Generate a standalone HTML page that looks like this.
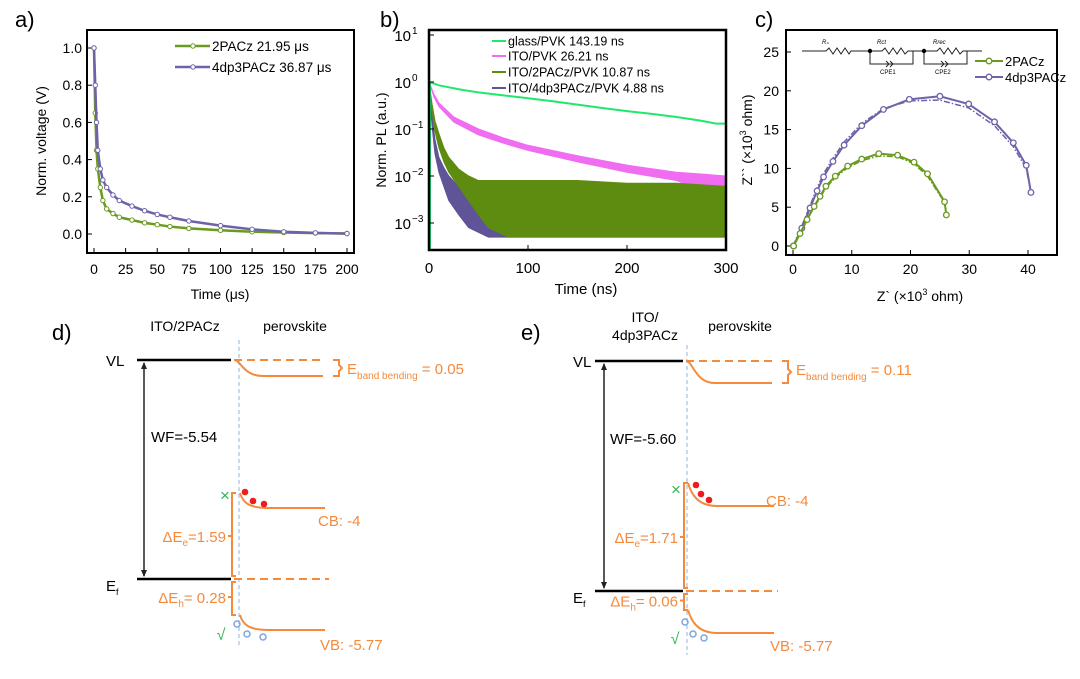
<!DOCTYPE html>
<html><head><meta charset="utf-8"><style>
body{margin:0;background:#fff;}
svg{display:block;font-family:"Liberation Sans",sans-serif;}
</style></head><body>
<svg id="fig" width="1080" height="679" viewBox="0 0 1080 679">
<g id="pa"></g>
<g id="pb"></g>
<g id="pc"></g>
<g id="pd"></g>
<g id="pe"></g>
</svg>
<script>
// ---------- Panel a data ----------
const aTime2 = [0,1,2,3,5,7,10,15,20,30,40,50,60,75,100,125,150,175,200];
const aVolt2 = [1.0,0.65,0.45,0.35,0.25,0.18,0.135,0.11,0.09,0.075,0.06,0.05,0.04,0.03,0.02,0.012,0.008,0.005,0.003];
const aTime4 = [0,1,2,3,5,7,10,15,20,30,40,50,60,75,100,125,150,175,200];
const aVolt4 = [1.0,0.8,0.6,0.45,0.35,0.29,0.25,0.21,0.18,0.15,0.125,0.105,0.09,0.07,0.045,0.025,0.012,0.006,0.002];
const aXTicks = [0,25,50,75,100,125,150,175,200];
const aYTicks = [0.0,0.2,0.4,0.6,0.8,1.0];
// ---------- Panel b data ----------
const bGlassT = [0,10,30,50,75,100,125,150,175,200,225,250,275,290,300];
const bGlassV = [1,0.85,0.7,0.6,0.52,0.45,0.39,0.33,0.28,0.24,0.21,0.18,0.15,0.13,0.13];
const bPinkT = [0,5,10,25,50,75,100,150,200,250,275,300];
const bPinkHi = [1,0.55,0.36,0.18,0.1,0.065,0.045,0.027,0.017,0.012,0.011,0.01];
const bPinkLo = [1,0.48,0.3,0.14,0.075,0.05,0.035,0.02,0.012,0.008,0.005,0.005];
const bOliveT = [0,3,6,10,15,20,30,40,50,60,80,100,150,200,250,300];
const bOliveHi = [1,0.35,0.15,0.08,0.04,0.025,0.014,0.01,0.008,0.008,0.008,0.008,0.008,0.007,0.007,0.006];
const bOliveLo = [1,0.25,0.09,0.04,0.02,0.012,0.006,0.003,0.0015,0.0008,0.0005,0.0005,0.0005,0.0005,0.0005,0.0005];
const bPurpT = [0,3,6,10,15,20,30,40,60,80,100,150,200,250,300];
const bPurpHi = [1,0.2,0.06,0.025,0.015,0.01,0.006,0.004,0.003,0.002,0.0015,0.0015,0.0015,0.0015,0.0015];
const bPurpLo = [1,0.12,0.03,0.012,0.006,0.003,0.0015,0.0008,0.0005,0.0005,0.0005,0.0005,0.0005,0.0005,0.0005];
const bXTicks = [0,100,200,300];
const bYExp = [1,0,-1,-2,-3];
const bLegend = ["glass/PVK 143.19 ns","ITO/PVK    26.21 ns","ITO/2PACz/PVK   10.87 ns","ITO/4dp3PACz/PVK   4.88 ns"];
// ---------- Panel c data ----------
const c2X = [0.1,1.2,2.4,3.6,4.6,5.6,7.2,9.3,11.7,14.6,17.8,20.6,22.9,25.8,26.1];
const c2Y = [0,1.6,3.4,5.1,6.4,7.7,9.0,10.3,11.2,11.9,11.7,10.8,9.3,5.7,4.0];
const c2FitX = [0,1.2,2.4,3.6,4.6,5.6,7.2,9.3,11.7,14.6,17.8,20.6,22.9,25.8,26.1];
const c2FitY = [0,1.7,3.5,5.0,6.2,7.5,8.8,10.1,11.0,11.6,11.5,10.6,9.0,5.6,4.0];
const c4X = [0.1,1.5,2.9,4.1,5.2,6.8,8.7,11.7,15.4,19.8,25,29.9,34.3,37.5,39.7,40.5];
const c4Y = [0,2.3,4.9,7.1,8.9,10.9,13.0,15.5,17.6,18.9,19.3,18.3,16.0,13.3,10.4,6.9];
const c4FitX = [0,1.5,2.9,4.1,5.2,6.8,8.7,11.7,15.4,19.8,25,29.9,34.3,37.5,39.7,40.5];
const c4FitY = [0,2.6,5.2,7.5,9.3,11.3,13.4,15.8,17.7,18.7,18.8,17.8,15.5,12.8,10.0,6.9];
const cXTicks = [0,10,20,30,40];
const cYTicks = [0,5,10,15,20,25];

const NS="http://www.w3.org/2000/svg";
function mk(parent,tag,attrs,text){const e=document.createElementNS(NS,tag);for(const k in attrs)e.setAttribute(k,attrs[k]);if(text!==undefined)e.textContent=text;parent.appendChild(e);return e;}
const G='#6a9a1f', P='#6e63a8', GL='#20e86a', PK='#f06cf0', OL='#5e8c10', PU='#5f5498', OR='#f58a3c';

// ===== Panel A =====
(function(){
const g=document.getElementById('pa');
const x0=87,x1=354,y0=30,y1=253;
const sx=v=>94+(v/200)*(347-94), sy=v=>234-(v/1.0)*(234-48);
let t=mk(g,'text',{x:15,y:27,'font-size':22});t.textContent='a)';

let r=mk(g,'rect',{x:x0,y:y0,width:x1-x0,height:y1-y0,fill:'none',stroke:'#000','stroke-width':2});

aXTicks.forEach(v=>{mk(g,'line',{x1:sx(v),x2:sx(v),y1:y1,y2:y1-5,stroke:'#000'});
 let e=mk(g,'text',{x:sx(v),y:y1+21,'font-size':14,'text-anchor':'middle'},String(v));
 });
aYTicks.forEach(v=>{mk(g,'line',{x1:x0,x2:x0+5,y1:sy(v),y2:sy(v),stroke:'#000'});
 let e=mk(g,'text',{x:x0-5,y:sy(v)+5,'font-size':14,'text-anchor':'end'},v.toFixed(1));
 });
let yl=mk(g,'text',{x:0,y:0,'font-size':14,'text-anchor':'middle',transform:'translate(46,141) rotate(-90)'},'Norm. voltage (V)');

let xl=mk(g,'text',{x:220,y:299,'font-size':14,'text-anchor':'middle'},'Time (μs)');

function series(T,V,c,name){
 const s=mk(g,'g',{});
 mk(s,'polyline',{points:T.map((v,i)=>sx(v)+','+sy(V[i])).join(' '),fill:'none',stroke:c,'stroke-width':2.5});
 T.forEach((v,i)=>{const m=mk(s,'circle',{cx:sx(v),cy:sy(V[i]),r:2.2,fill:'#fff',stroke:c,'stroke-width':1});
  });
}
series(aTime2,aVolt2,G,'series-2pacz');
series(aTime4,aVolt4,P,'series-4dp3pacz');
[[G,'2PACz 21.95 μs',46],[P,'4dp3PACz 36.87 μs',67]].forEach(d=>{
 const l=mk(g,'g',{});
 mk(l,'line',{x1:175,x2:210,y1:d[2],y2:d[2],stroke:d[0],'stroke-width':2.5});
 mk(l,'circle',{cx:193,cy:d[2],r:2.2,fill:'#fff',stroke:d[0]});
 mk(l,'text',{x:212,y:d[2]+5,'font-size':13.5},d[1]);});
})();

// ===== Panel B =====
(function(){
const g=document.getElementById('pb');
const x0=429,x1=726,y0=30,y1=250;
const sx=v=>429+(v/300)*(726-429), sy=v=>82-Math.log10(v)*47;
let t=mk(g,'text',{x:380,y:27,'font-size':22},'b)');

const clip=mk(g,'clipPath',{id:'cb'});mk(clip,'rect',{x:x0,y:y0,width:x1-x0,height:y1-y0});
const d=mk(g,'g',{'clip-path':'url(#cb)'});
function band(T,H,L,c,name){const p=mk(d,'polygon',{points:T.map((v,i)=>sx(v)+','+sy(H[i])).concat(T.map((v,i)=>sx(v)+','+sy(L[i])).reverse()).join(' '),fill:c,stroke:c,'stroke-width':1});
 }
let gl=mk(d,'polyline',{points:bGlassT.map((v,i)=>sx(v)+','+sy(bGlassV[i])).join(' '),fill:'none',stroke:GL,'stroke-width':2});

band(bPinkT,bPinkHi,bPinkLo,PK,'series-ito-pvk');
band(bPurpT,bPurpHi,bPurpLo,PU,'series-ito-4dp3pacz-pvk');
band(bOliveT,bOliveHi,bOliveLo,OL,'series-ito-2pacz-pvk');
mk(d,'line',{x1:sx(0)+1,x2:sx(0)+1,y1:y1,y2:sy(1),stroke:GL,'stroke-width':2});
mk(g,'rect',{x:x0,y:y0,width:x1-x0,height:y1-y0,fill:'none',stroke:'#000','stroke-width':2.5});
bXTicks.forEach(v=>{mk(g,'line',{x1:sx(v),x2:sx(v),y1:y1,y2:y1-5,stroke:'#000'});
 let e=mk(g,'text',{x:sx(v),y:y1+23,'font-size':15,'text-anchor':'middle'},String(v));
 });
bYExp.forEach(v=>{const y=sy(Math.pow(10,v));mk(g,'line',{x1:x0,x2:x0+5,y1:y,y2:y,stroke:'#000'});
 let e=mk(g,'text',{x:x0-18,y:y+6,'font-size':15,'text-anchor':'end'},'10');
 
 mk(g,'text',{x:x0-17,y:y-1,'font-size':10},v<0?'−'+(-v):String(v));});
let yl=mk(g,'text',{x:0,y:0,'font-size':14,'text-anchor':'middle',transform:'translate(386,140) rotate(-90)'},'Norm. PL (a.u.)');

let xl=mk(g,'text',{x:586,y:294,'font-size':15,'text-anchor':'middle'},'Time (ns)');

const cols=[GL,PK,OL,PU],ys=[41,56,72,88];
bLegend.forEach((s,i)=>{const l=mk(g,'g',{});
 mk(l,'line',{x1:492,x2:506,y1:ys[i],y2:ys[i],stroke:cols[i],'stroke-width':2});
 mk(l,'text',{x:508,y:ys[i]+4.5,'font-size':12.5,'xml:space':'preserve'},s);});
})();

// ===== Panel C =====
(function(){
const g=document.getElementById('pc');
const x0=786,x1=1057,y0=30,y1=255;
const sx=v=>793+v*(1028-793)/40, sy=v=>246-v*(246-52)/25;
let t=mk(g,'text',{x:755,y:27,'font-size':22},'c)');

mk(g,'rect',{x:x0,y:y0,width:x1-x0,height:y1-y0,fill:'none',stroke:'#000','stroke-width':2});
cXTicks.forEach(v=>{mk(g,'line',{x1:sx(v),x2:sx(v),y1:y1,y2:y1-5,stroke:'#000'});
 let e=mk(g,'text',{x:sx(v),y:y1+19,'font-size':14,'text-anchor':'middle'},String(v));
 });
cYTicks.forEach(v=>{mk(g,'line',{x1:x0,x2:x0+5,y1:sy(v),y2:sy(v),stroke:'#000'});
 let e=mk(g,'text',{x:x0-7,y:sy(v)+5,'font-size':14,'text-anchor':'end'},String(v));
 });
let yl=mk(g,'text',{x:0,y:0,'font-size':14,'text-anchor':'middle',transform:'translate(752,140) rotate(-90)'});
yl.innerHTML='Z`` (×10<tspan dy="-6" font-size="9">3</tspan><tspan dy="6"> ohm)</tspan>';

let xl=mk(g,'text',{x:920,y:301,'font-size':14,'text-anchor':'middle'});
xl.innerHTML='Z` (×10<tspan dy="-6" font-size="9">3</tspan><tspan dy="6"> ohm)</tspan>';

function ser(X,Y,FX,FY,c,name){const s=mk(g,'g',{});
 mk(s,'polyline',{points:FX.map((v,i)=>sx(v)+','+sy(FY[i])).join(' '),fill:'none',stroke:c,'stroke-width':1.5,'stroke-dasharray':'6 2 1.5 2'});
 mk(s,'polyline',{points:X.map((v,i)=>sx(v)+','+sy(Y[i])).join(' '),fill:'none',stroke:c,'stroke-width':2});
 X.forEach((v,i)=>{const m=mk(s,'circle',{cx:sx(v),cy:sy(Y[i]),r:2.8,fill:'#fff',stroke:c,'stroke-width':1.3});
  });}
ser(c4X,c4Y,c4FitX,c4FitY,P,'series-4dp3pacz');
ser(c2X,c2Y,c2FitX,c2FitY,G,'series-2pacz');
const ci=mk(g,'g',{stroke:'#222',fill:'none','stroke-width':1});
mk(ci,'polyline',{points:'802,51 826,51 829,48 833,54 837,48 841,54 845,48 849,54 851,51 882,51 885,48 889,54 893,48 897,54 901,48 905,54 908,51 913,51 913,64 870,64 870,51'});
mk(ci,'polyline',{points:'913,51 937,51 940,48 944,54 948,48 952,54 956,48 960,54 963,51 982,51'});
mk(ci,'polyline',{points:'924,51 924,64 967,64 967,51'});
mk(ci,'polyline',{points:'886,61 889,64 886,67'});mk(ci,'polyline',{points:'890,61 893,64 890,67'});
mk(ci,'polyline',{points:'941,61 944,64 941,67'});mk(ci,'polyline',{points:'945,61 948,64 945,67'});
mk(g,'circle',{cx:870,cy:51,r:2.2,fill:'#000'});mk(g,'circle',{cx:924,cy:51,r:2.2,fill:'#000'});
[['Rₛ',822],['Rct',877],['Rrec',933]].forEach(d=>mk(g,'text',{x:d[1],y:44,'font-size':6,'font-style':'italic'},d[0]));
mk(g,'text',{x:880,y:74,'font-size':6},'CPE1');mk(g,'text',{x:935,y:74,'font-size':6},'CPE2');
[[G,'2PACz',61],[P,'4dp3PACz',77]].forEach(d=>{const l=mk(g,'g',{});
 mk(l,'line',{x1:975,x2:1003,y1:d[2],y2:d[2],stroke:d[0],'stroke-width':2});
 mk(l,'circle',{cx:989,cy:d[2],r:2.8,fill:'#fff',stroke:d[0],'stroke-width':1.3});
 mk(l,'text',{x:1005,y:d[2]+5,'font-size':13},d[1]);});
})();

// ===== Panels D & E (band diagrams) =====
function diagram(id,o){
const g=document.getElementById(id);
const T=(x,y,s,fs,extra)=>{const e=mk(g,'text',Object.assign({x:x,y:y,'font-size':fs||15},extra||{}));e.innerHTML=s;return e;};
let lab=T(o.lx,o.ly,o.letter+')',22);
o.titles.forEach(tt=>T(tt[0],tt[1],tt[2],14,{'text-anchor':'middle'}));
T(o.vlx,o.vl+6,'VL',15);
T(o.vlx,o.ef+12,'E<tspan font-size="9" dy="4">f</tspan>',15);
mk(g,'line',{x1:o.xl,x2:o.xi,y1:o.vl,y2:o.vl,stroke:'#000','stroke-width':2.5});
mk(g,'line',{x1:o.xl,x2:o.xi,y1:o.ef,y2:o.ef,stroke:'#000','stroke-width':2.5});
const ar=mk(g,'g',{});
mk(ar,'line',{x1:o.ax,x2:o.ax,y1:o.vl+3,y2:o.ef-3,stroke:'#222','stroke-width':1.5});
mk(ar,'polygon',{points:`${o.ax-3},${o.vl+9} ${o.ax},${o.vl+2} ${o.ax+3},${o.vl+9}`,fill:'#222'});
mk(ar,'polygon',{points:`${o.ax-3},${o.ef-9} ${o.ax},${o.ef-2} ${o.ax+3},${o.ef-9}`,fill:'#222'});
T(o.wfx,o.wfy,o.wf,15);
mk(g,'line',{x1:o.xd,x2:o.xd,y1:o.dt,y2:o.db,stroke:'#8fb4e6','stroke-width':1,'stroke-dasharray':'4 3'});
const or={stroke:OR,'stroke-width':2,fill:'none'};
mk(g,'line',Object.assign({x1:o.xi+3,x2:o.xe,y1:o.vl,y2:o.vl,'stroke-dasharray':'8 5'},or));
mk(g,'path',Object.assign({d:`M${o.xi+3},${o.vl} C${o.xi+10},${o.vl} ${o.xi+12},${o.vb} ${o.xi+32},${o.vb} L${o.xe},${o.vb}`},or));
mk(g,'path',Object.assign({d:`M${o.xe+10},${o.vl} h6 v${(o.vb-o.vl)/2-3} l3,3 l-3,3 v${(o.vb-o.vl)/2-3} h-6`},or));
T(o.xe+24,o.vl+14,'E<tspan font-size="10" dy="5">band bending</tspan><tspan dy="-5"> = '+o.bb+'</tspan>',15,{fill:OR});
mk(g,'line',Object.assign({x1:o.xi+3,x2:o.xe+6,y1:o.ef,y2:o.ef,'stroke-dasharray':'8 5'},or));
mk(g,'path',Object.assign({d:`M${o.xi+5},${o.cb} h-4 V${o.ef-3} h4 M${o.xi+1},${(o.cb+o.ef)/2} h-4`},or));
mk(g,'path',Object.assign({d:`M${o.xi+5},${o.ef+3} h-4 V${o.vbt} h4 M${o.xi+1},${(o.ef+o.vbt)/2} h-4`},or));
T(o.xi-5,(o.cb+o.ef)/2+6,'ΔE<tspan font-size="10" dy="4">e</tspan><tspan dy="-4">='+o.de+'</tspan>',15,{fill:OR,'text-anchor':'end'});
T(o.xi-5,(o.ef+o.vbt)/2+6,'ΔE<tspan font-size="10" dy="4">h</tspan><tspan dy="-4">= '+o.dh+'</tspan>',15,{fill:OR,'text-anchor':'end'});
mk(g,'path',Object.assign({d:`M${o.xd+1},${o.cb} C${o.xd+4},${o.cb+10} ${o.xd+10},${o.cbf} ${o.xd+30},${o.cbf} L${o.xe+2},${o.cbf}`},or));
mk(g,'path',Object.assign({d:`M${o.xd+1},${o.vbt} C${o.xd+4},${o.vbt+10} ${o.xd+10},${o.vbf} ${o.xd+30},${o.vbf} L${o.xe+2},${o.vbf}`},or));
T(o.cbx,o.cby,'CB: -4',15,{fill:OR});
T(o.vbx,o.vby,'VB: -5.77',15,{fill:OR});
o.dots.forEach(p=>mk(g,'circle',{cx:p[0],cy:p[1],r:3.3,fill:'#ee1c1c'}));
o.holes.forEach(p=>mk(g,'circle',{cx:p[0],cy:p[1],r:3,fill:'none',stroke:'#7da6e0','stroke-width':1.5}));
T(o.xx,o.xy,'×',17,{fill:'#2db84d','text-anchor':'middle'});
T(o.ckx,o.cky,'√',16,{fill:'#2db84d','text-anchor':'middle'});
}
diagram('pd',{letter:'d',lx:52,ly:340,titles:[[185,331,'ITO/2PACz'],[295,331,'perovskite']],
 vlx:106,vl:360,ef:579,xl:137,xi:231,ax:144,wfx:151,wfy:442,wf:'WF=-5.54',xd:239,dt:340,db:645,xe:323,vb:376,bb:'0.05',
 cb:493,vbt:615,cbf:508,vbf:630,de:'1.59',dh:'0.28',cbx:318,cby:526,vbx:320,vby:650,
 dots:[[245,492],[253,501],[264,504]],holes:[[237,624],[247,634],[263,637]],xx:225,xy:501,ckx:221,cky:640});
diagram('pe',{letter:'e',lx:521,ly:340,titles:[[645,322,'ITO/'],[645,340,'4dp3PACz'],[740,331,'perovskite']],
 vlx:573,vl:361,ef:591,xl:595,xi:683,ax:604,wfx:610,wfy:444,wf:'WF=-5.60',xd:687,dt:345,db:655,xe:772,vb:383,bb:'0.11',
 cb:483,vbt:610,cbf:506,vbf:633,de:'1.71',dh:'0.06',cbx:766,cby:506,vbx:770,vby:651,
 dots:[[696,485],[701,494],[709,500]],holes:[[685,622],[693,634],[704,638]],xx:676,xy:495,ckx:675,cky:644});
</script>
</body></html>
